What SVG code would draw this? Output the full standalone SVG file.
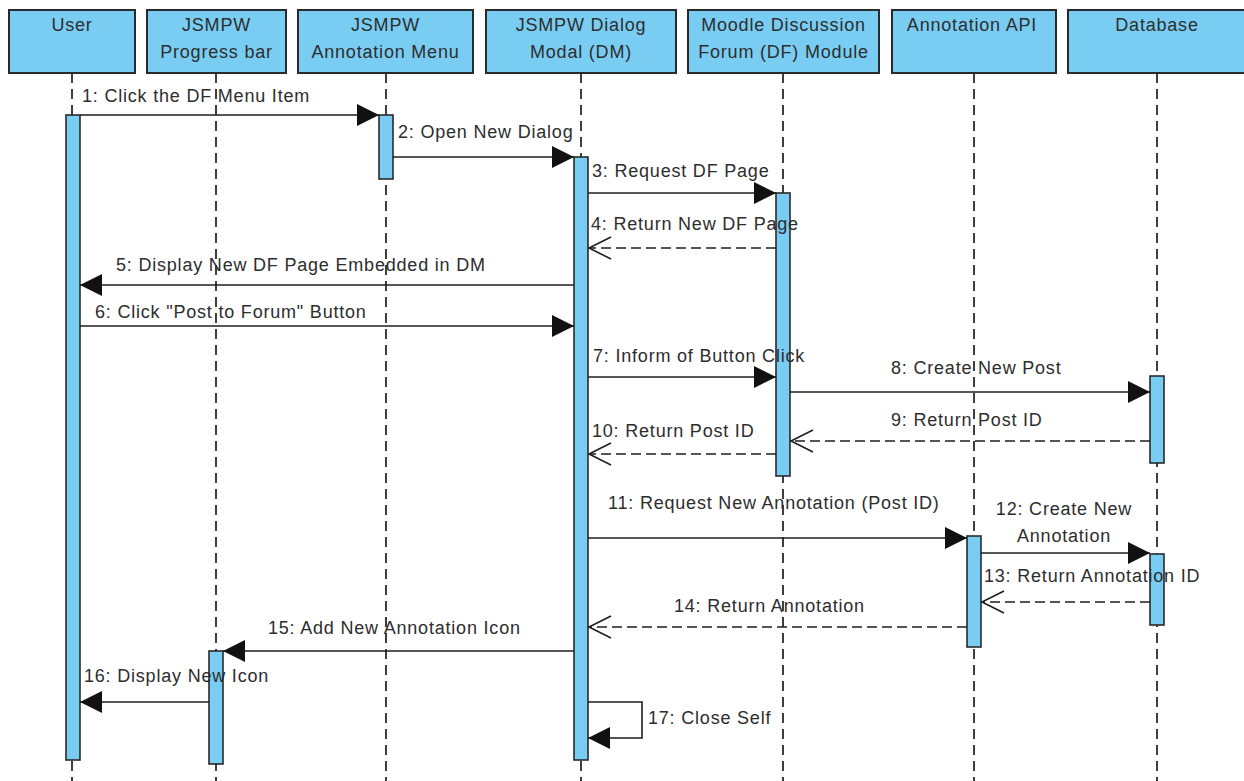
<svg xmlns="http://www.w3.org/2000/svg" width="1244" height="781" viewBox="0 0 1244 781">
  <style>
    .hdr { fill: #79CDF3; stroke: #2a2a2a; stroke-width: 2; }
    .act { fill: #79CDF3; stroke: #2a2a2a; stroke-width: 1.6; }
    .life { stroke: #2a2a2a; stroke-width: 1.8; stroke-dasharray: 10 6; fill: none; }
    .t { font-family: "Liberation Sans", Arial, sans-serif; font-size: 18px; letter-spacing: 0.8px; fill: #2d2d2d; }
    .c { text-anchor: middle; }
    .msg { stroke: #1e1e1e; stroke-width: 1.6; fill: none; }
    .call { marker-end: url(#filled); }
    .ret { stroke-dasharray: 10 5; marker-end: url(#open); }
  </style>
  <defs>
    <marker id="filled" markerUnits="userSpaceOnUse" markerWidth="24" markerHeight="24" refX="22" refY="11" orient="auto" viewBox="0 0 24 24">
      <path d="M0,0 L22,11 L0,22 Z" fill="#111"/>
    </marker>
    <marker id="open" markerUnits="userSpaceOnUse" markerWidth="26" markerHeight="26" refX="23" refY="12" orient="auto" viewBox="0 0 26 26" overflow="visible">
      <path d="M1,1 L23,12 L1,23" fill="none" stroke="#1e1e1e" stroke-width="1.6"/>
    </marker>
  </defs>

  <rect width="1244" height="781" fill="#ffffff"/>

  <!-- lifelines -->
  <g id="lifelines">
    <line class="life" x1="72" y1="73" x2="72" y2="781"/>
    <line class="life" x1="216" y1="73" x2="216" y2="781"/>
    <line class="life" x1="386" y1="73" x2="386" y2="781"/>
    <line class="life" x1="581" y1="73" x2="581" y2="781"/>
    <line class="life" x1="783" y1="73" x2="783" y2="781"/>
    <line class="life" x1="974" y1="73" x2="974" y2="781"/>
    <line class="life" x1="1157" y1="73" x2="1157" y2="781"/>
  </g>

  <!-- participants -->
  <g id="user">
    <rect class="hdr" x="9" y="10" width="126" height="63"/>
    <text class="t c" x="72" y="31">User</text>
    <rect class="act" x="66" y="115" width="14" height="645"/>
  </g>
  <g id="progress-bar">
    <rect class="hdr" x="147" y="10" width="139" height="63"/>
    <text class="t c" x="216.5" y="31">JSMPW</text>
    <text class="t c" x="216.5" y="58">Progress bar</text>
    <rect class="act" x="209" y="651" width="14" height="113"/>
  </g>
  <g id="annotation-menu">
    <rect class="hdr" x="298" y="10" width="175" height="63"/>
    <text class="t c" x="385.5" y="31">JSMPW</text>
    <text class="t c" x="385.5" y="58">Annotation Menu</text>
    <rect class="act" x="379" y="115" width="14" height="64"/>
  </g>
  <g id="dialog-modal">
    <rect class="hdr" x="486" y="10" width="190" height="63"/>
    <text class="t c" x="581" y="31">JSMPW Dialog</text>
    <text class="t c" x="581" y="58">Modal (DM)</text>
    <rect class="act" x="574" y="157" width="14" height="603"/>
  </g>
  <g id="forum-module">
    <rect class="hdr" x="688" y="10" width="191" height="63"/>
    <text class="t c" x="783.5" y="31">Moodle Discussion</text>
    <text class="t c" x="783.5" y="58">Forum (DF) Module</text>
    <rect class="act" x="776" y="193" width="14" height="283"/>
  </g>
  <g id="annotation-api">
    <rect class="hdr" x="892" y="10" width="164" height="63"/>
    <text class="t c" x="972" y="31">Annotation API</text>
    <rect class="act" x="967" y="536" width="14" height="111"/>
  </g>
  <g id="database">
    <rect class="hdr" x="1068" y="10" width="180" height="63"/>
    <text class="t c" x="1157" y="31">Database</text>
    <rect class="act" x="1150" y="376" width="14" height="87"/>
    <rect class="act" x="1150" y="554" width="14" height="71"/>
  </g>

  <!-- messages -->
  <g id="connectors">
    <line class="msg call" x1="80" y1="115" x2="379" y2="115"/>
    <line class="msg call" x1="393" y1="157" x2="574" y2="157"/>
    <line class="msg call" x1="588" y1="193" x2="776" y2="193"/>
    <line class="msg ret" x1="776" y1="248" x2="589" y2="248"/>
    <line class="msg call" x1="574" y1="285" x2="80" y2="285"/>
    <line class="msg call" x1="80" y1="326" x2="574" y2="326"/>
    <line class="msg call" x1="588" y1="377" x2="776" y2="377"/>
    <line class="msg call" x1="790" y1="392" x2="1150" y2="392"/>
    <line class="msg ret" x1="1150" y1="441" x2="791" y2="441"/>
    <line class="msg ret" x1="776" y1="454" x2="589" y2="454"/>
    <line class="msg call" x1="588" y1="538" x2="967" y2="538"/>
    <line class="msg call" x1="981" y1="553" x2="1150" y2="553"/>
    <line class="msg ret" x1="1150" y1="602" x2="982" y2="602"/>
    <line class="msg ret" x1="967" y1="627" x2="589" y2="627"/>
    <line class="msg call" x1="574" y1="651" x2="223" y2="651"/>
    <line class="msg call" x1="209" y1="702" x2="80" y2="702"/>
    <path class="msg call" d="M588,702 H642 V738 H588"/>
  </g>

  <!-- message labels -->
  <g id="labels">
    <text class="t" x="82" y="102">1: Click the DF Menu Item</text>
    <text class="t" x="398" y="138">2: Open New Dialog</text>
    <text class="t" x="592" y="177">3: Request DF Page</text>
    <text class="t" x="591" y="230">4: Return New DF Page</text>
    <text class="t" x="116" y="271">5: Display New DF Page Embedded in DM</text>
    <text class="t" x="95" y="318">6: Click "Post to Forum" Button</text>
    <text class="t" x="593" y="362">7: Inform of Button Click</text>
    <text class="t" x="891" y="374">8: Create New Post</text>
    <text class="t" x="891" y="426">9: Return Post ID</text>
    <text class="t" x="592" y="437">10: Return Post ID</text>
    <text class="t" x="608" y="509">11: Request New Annotation (Post ID)</text>
    <text class="t c" x="1064" y="515">12: Create New</text>
    <text class="t c" x="1064" y="542">Annotation</text>
    <text class="t" x="984" y="582">13: Return Annotation ID</text>
    <text class="t" x="674" y="612">14: Return Annotation</text>
    <text class="t" x="268" y="634">15: Add New Annotation Icon</text>
    <text class="t" x="84" y="682">16: Display New Icon</text>
    <text class="t" x="648" y="724">17: Close Self</text>
  </g>
</svg>
